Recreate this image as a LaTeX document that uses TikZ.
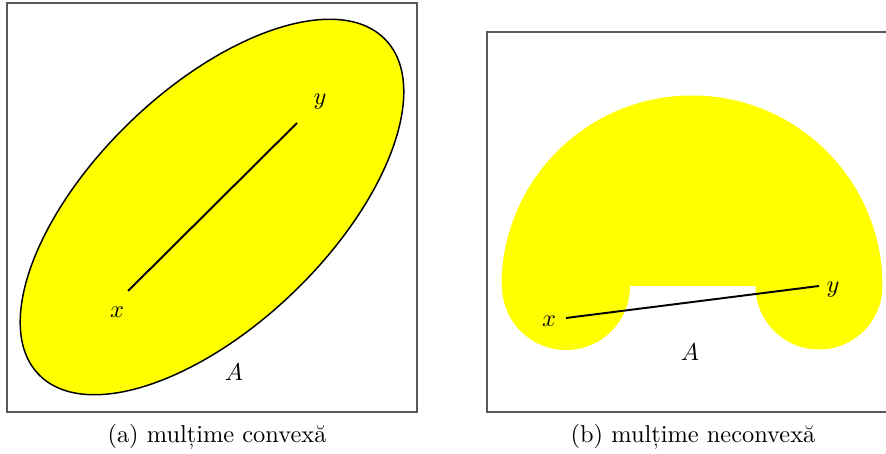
\documentclass[tikz,border=0pt]{standalone}
\usepackage{fontspec}
\usetikzlibrary{positioning}
\definecolor{setyellow}{RGB}{255,255,0}
\tikzset{
	frame/.style={draw=black!65, line width=0.5pt},
	region/.style={fill=setyellow},
	seg/.style={line width=0.8pt},
	lbl/.style={inner sep=0pt}
}
\begin{document}
\begin{tikzpicture}[x=0.0144cm, y=0.0144cm]
		\useasboundingbox (0,0) rectangle (886,454);
		
		% Convex set
		\draw[frame] (7,42) rectangle (417,451);
		\filldraw[region, draw=black, line width=0.6pt, rotate around={44:(212,247)}]
		(212,247) ellipse (241 and 118);
		\coordinate (x1) at (128,163);
		\coordinate (y1) at (297,331);
		\draw[seg] (x1) -- (y1);
		\node[lbl] (lx1) at (117,142) {$x$};
		\node[lbl] (ly1) at (320,352) {$y$};
		\node[lbl] (lA1) at (234,82) {$A$};
		\node (capa) at (217,17) {(a) mulțime convexă};
		
		% Non-convex set
		\draw[frame] (487,42) rectangle (888,422);
		\fill[region]
		(501.5,168) arc (180:0:190.5) arc (0:-180:63.5) -- (630,168) arc (0:-180:64) -- cycle;
		\coordinate (x2) at (566,136);
		\coordinate (y2) at (819,168);
		\draw[seg] (x2) -- (y2);
		\node[lbl] (lx2) at (549,133) {$x$};
		\node[lbl] (ly2) at (833,164) {$y$};
		\node[lbl] (lA2) at (690,102) {$A$};
		\node (capb) at (693,17) {(b) mulțime neconvexă};
		
	\end{tikzpicture}
\end{document}
